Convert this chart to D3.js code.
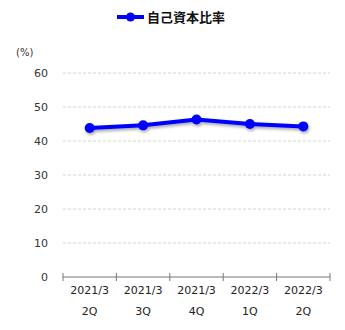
<!DOCTYPE html>
<html>
<head>
<meta charset="utf-8">
<script src="https://cdn.jsdelivr.net/npm/d3@7"></script>
<style>
  body { margin: 0; background: #fff; }
  svg { display: block; font-family: "DejaVu Sans", Verdana, sans-serif; }
</style>
</head>
<body>
<svg id="chart" width="345" height="330"></svg>
<script>
// data
const periods = ["2021/3", "2021/3", "2021/3", "2022/3", "2022/3"];
const quarters = ["2Q", "3Q", "4Q", "1Q", "2Q"];
const equityRatio = [43.8, 44.6, 46.3, 45.0, 44.3];
const yTicks = [0, 10, 20, 30, 40, 50, 60];
const seriesName = "自己資本比率";

const width = 345, height = 330;
const margin = { top: 73, right: 15, bottom: 53, left: 63 };
const innerWidth = width - margin.left - margin.right;
const innerHeight = height - margin.top - margin.bottom;

var svg = d3.select('#chart');

var defs = svg.append('defs');
var shadow = defs.append('filter').attr('id', 'shadow')
    .attr('x', '-20%').attr('y', '-50%').attr('width', '140%').attr('height', '200%');
shadow.append('feDropShadow')
    .attr('dx', 1).attr('dy', 2).attr('stdDeviation', 1.5)
    .attr('flood-color', '#000').attr('flood-opacity', 0.35);

var g = svg.append('g').attr('transform', `translate(${margin.left},${margin.top})`);

var idx = d3.range(equityRatio.length);

var x = d3.scaleBand()
    .domain(idx)
    .range([0, innerWidth]);

var y = d3.scaleLinear()
    .domain([0, 60])
    .range([innerHeight, 0]);

// grid
g.selectAll('.grid')
    .data(yTicks.filter(d => d > 0))
    .enter()
    .append('line')
    .attr('x1', 0)
    .attr('x2', innerWidth)
    .attr('y1', d => y(d))
    .attr('y2', d => y(d))
    .attr('stroke', '#d4d4d4')
    .attr('stroke-dasharray', '3,2')
    .attr('stroke-width', 1);

// y labels
g.selectAll('.ylab')
    .data(yTicks)
    .enter()
    .append('text')
    .attr('x', -15)
    .attr('y', d => y(d) + 4)
    .attr('text-anchor', 'end')
    .attr('font-size', 11)
    .attr('fill', '#333')
    .text(d => d);

svg.append('text')
    .attr('x', 16)
    .attr('y', 56)
    .attr('font-size', 10)
    .attr('fill', '#333')
    .text('(%)');

// x axis
var xAxisG = g.append('g').attr('transform', `translate(0,${innerHeight})`);
xAxisG.append('line')
    .attr('x1', 0).attr('x2', innerWidth)
    .attr('stroke', '#777');
var bounds = idx.map(i => x(i)).concat([innerWidth]);
xAxisG.selectAll('.tick')
    .data(bounds)
    .enter()
    .append('line')
    .attr('x1', d => d).attr('x2', d => d)
    .attr('y1', -4).attr('y2', 4)
    .attr('stroke', '#777');

xAxisG.selectAll('.lab1')
    .data(idx)
    .enter()
    .append('text')
    .attr('x', i => x(i) + x.bandwidth() / 2)
    .attr('y', 17)
    .attr('text-anchor', 'middle')
    .attr('font-size', 11)
    .attr('fill', '#222')
    .text(i => periods[i]);

xAxisG.selectAll('.lab2')
    .data(idx)
    .enter()
    .append('text')
    .attr('x', i => x(i) + x.bandwidth() / 2)
    .attr('y', 38)
    .attr('text-anchor', 'middle')
    .attr('font-size', 11)
    .attr('fill', '#222')
    .text(i => quarters[i]);

// line
var line = d3.line()
    .x(i => x(i) + x.bandwidth() / 2)
    .y(i => y(equityRatio[i]));

var series = g.append('g').attr('filter', 'url(#shadow)');
series.append('path')
    .datum(idx)
    .attr('d', line)
    .attr('fill', 'none')
    .attr('stroke', '#0000ff')
    .attr('stroke-width', 4);

series.selectAll('circle')
    .data(idx)
    .enter()
    .append('circle')
    .attr('cx', i => x(i) + x.bandwidth() / 2)
    .attr('cy', i => y(equityRatio[i]))
    .attr('r', 5)
    .attr('fill', '#0000ff');

// legend
var lg = svg.append('g').attr('transform', 'translate(117,17)');
lg.append('line')
    .attr('x1', 0).attr('x2', 27)
    .attr('stroke', '#0000ff').attr('stroke-width', 4);
lg.append('circle')
    .attr('cx', 13.5).attr('r', 4.5)
    .attr('fill', '#0000ff');
lg.append('text')
    .attr('x', 30)
    .attr('y', 5)
    .attr('font-size', 13)
    .attr('font-weight', 'bold')
    .attr('font-family', '"Noto Sans CJK JP", sans-serif')
    .attr('fill', '#111')
    .text(seriesName);
</script>
</body>
</html>
